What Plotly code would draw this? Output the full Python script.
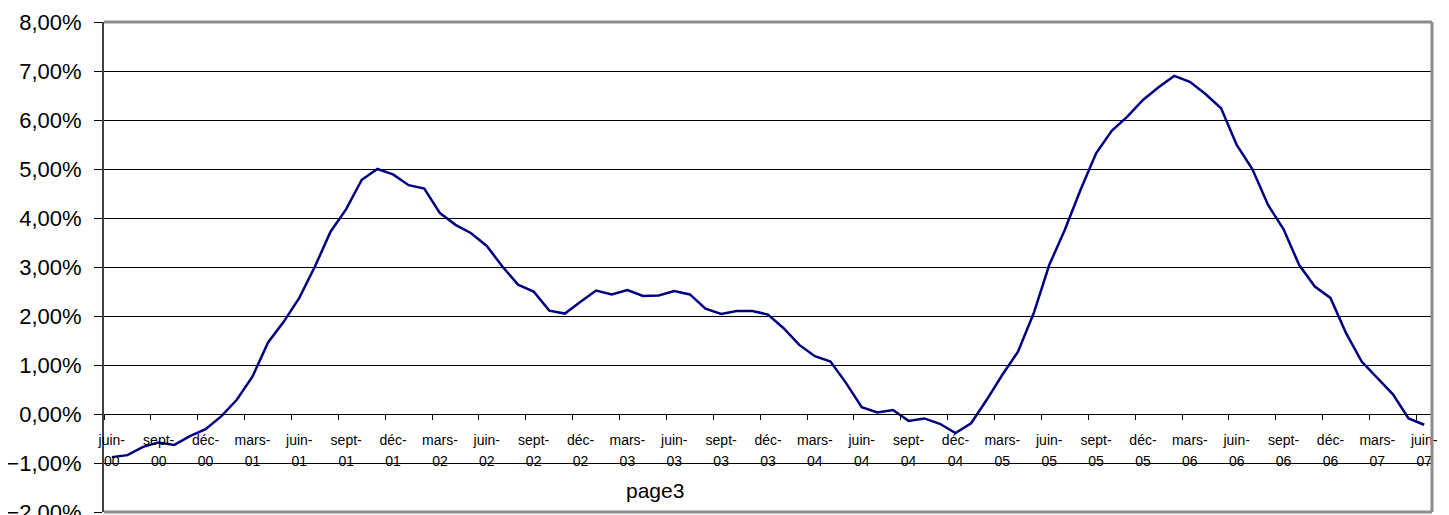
import plotly.graph_objects as go

# Monthly values (%), juin-00 .. juin-07
values = [
    -0.88, -0.84, -0.67, -0.58, -0.63, -0.45, -0.31, -0.05, 0.29, 0.76,
    1.46, 1.88, 2.37, 3.01, 3.72, 4.18, 4.78, 5.00, 4.89, 4.67,
    4.60, 4.10, 3.86, 3.69, 3.43, 3.01, 2.64, 2.50, 2.11, 2.05,
    2.29, 2.52, 2.44, 2.53, 2.41, 2.42, 2.51, 2.44, 2.15, 2.04,
    2.10, 2.10, 2.03, 1.75, 1.41, 1.18, 1.07, 0.63, 0.14, 0.03,
    0.08, -0.14, -0.09, -0.20, -0.39, -0.19, 0.29, 0.80, 1.27, 2.05,
    3.04, 3.76, 4.57, 5.32, 5.78, 6.07, 6.41, 6.67, 6.90, 6.78,
    6.53, 6.24, 5.49, 5.00, 4.27, 3.77, 3.04, 2.60, 2.37, 1.65,
    1.07, 0.73, 0.40, -0.09, -0.22,
]

tick_months = [
    "juin-", "sept-", "déc-", "mars-", "juin-", "sept-", "déc-", "mars-",
    "juin-", "sept-", "déc-", "mars-", "juin-", "sept-", "déc-", "mars-",
    "juin-", "sept-", "déc-", "mars-", "juin-", "sept-", "déc-", "mars-",
    "juin-", "sept-", "déc-", "mars-", "juin-",
]
tick_years = [
    "00", "00", "00", "01", "01", "01", "01", "02", "02", "02", "02", "03",
    "03", "03", "03", "04", "04", "04", "04", "05", "05", "05", "05", "06",
    "06", "06", "06", "07", "07",
]
label_step = 3

n = len(values)
xs = list(range(n))
label_pos = list(range(0, n, label_step))
tick_bounds = [p - 0.5 for p in label_pos]
xrange = [-0.5, n - 0.5]

fig = go.Figure()
fig.add_trace(go.Scatter(x=xs, y=values, mode="lines",
                         line=dict(color="#000080", width=2.5),
                         showlegend=False, hoverinfo="skip"))
for ax in ["x2", "x3"]:
    fig.add_trace(go.Scatter(x=xs, y=values, mode="lines", xaxis=ax,
                             line=dict(color="rgba(0,0,0,0)", width=0),
                             showlegend=False, hoverinfo="skip"))

font = "Liberation Sans, Arial, sans-serif"
zero_pos = 2 / 10

fig.update_layout(
    width=1441, height=507,
    margin=dict(l=96, r=17, t=14, b=3, autoexpand=False),
    paper_bgcolor="white", plot_bgcolor="white",
    separators=", ",
    font=dict(family=font, color="black"),
    xaxis=dict(range=xrange, anchor="free", position=zero_pos,
               tickmode="array", tickvals=label_pos, ticktext=tick_months,
               ticks="", showgrid=False, zeroline=False, automargin=False,
               showline=True, linecolor="black", linewidth=1,
               tickfont=dict(size=14, family=font, color="black"),
               ticklabelstandoff=13, tickangle=0, ticklabeloverflow="allow"),
    xaxis2=dict(range=xrange, anchor="free", position=zero_pos, overlaying="x",
                tickmode="array", tickvals=tick_bounds, ticks="outside",
                ticklen=5, tickcolor="black", tickwidth=1, automargin=False,
                showticklabels=False, showgrid=False, zeroline=False,
                showline=False),
    xaxis3=dict(range=xrange, anchor="free", position=zero_pos, overlaying="x",
                tickmode="array", tickvals=label_pos, ticktext=tick_years,
                ticks="", showgrid=False, zeroline=False, showline=False,
                automargin=False, ticklabeloverflow="allow",
                tickfont=dict(size=14, family=font, color="black"),
                ticklabelstandoff=37, tickangle=0),
    yaxis=dict(range=[-2, 8], dtick=1, tick0=0, tickformat=".2f",
               ticksuffix="%", showgrid=True, gridcolor="black", gridwidth=1,
               zeroline=False, showline=True, linecolor="#404040", linewidth=2,
               ticks="outside", ticklen=8, tickcolor="black", automargin=False,
               ticklabeloverflow="allow", ticklabelstandoff=8,
               tickfont=dict(size=22, family=font, color="black")),
    shapes=[
        dict(type="line", xref="paper", yref="paper", x0=0, x1=1, y0=1, y1=1,
             line=dict(color="#8c8c8c", width=3), layer="above"),
        dict(type="line", xref="paper", yref="paper", x0=1, x1=1, y0=0, y1=1,
             line=dict(color="#8c8c8c", width=3), layer="above"),
        dict(type="line", xref="paper", yref="paper", x0=0, x1=1, y0=0, y1=0,
             line=dict(color="#8c8c8c", width=3), layer="above"),
        dict(type="line", xref="paper", yref="paper", x0=1.009, x1=1.009,
             y0=-0.1, y1=1.1, line=dict(color="black", width=2)),
    ],
    annotations=[
        dict(text="page3", xref="paper", yref="paper", x=0.415, y=0.043,
             showarrow=False, font=dict(size=21, family=font, color="black"),
             xanchor="center", yanchor="middle"),
    ],
)

fig.write_html("out.html")
